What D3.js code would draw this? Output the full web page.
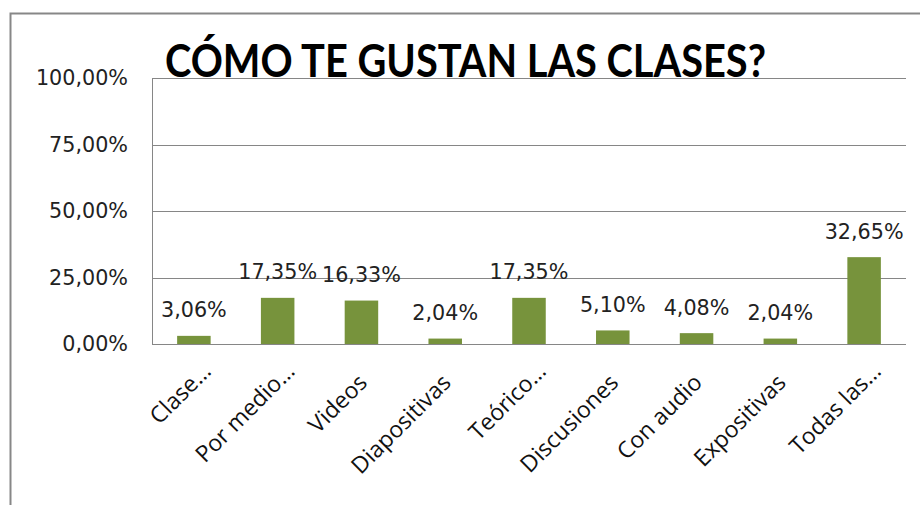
<!DOCTYPE html>
<html><head><meta charset="utf-8">
<script src="https://cdn.jsdelivr.net/npm/d3@7"></script>
<style>html,body{margin:0;padding:0;background:#fff;}svg{display:block;}</style>
</head><body>
<script>
const categories = ["Clase…","Por medio…","Videos","Diapositivas","Teórico…","Discusiones","Con audio","Expositivas","Todas las…"];
const values = [3.06,17.35,16.33,2.04,17.35,5.10,4.08,2.04,32.65];
const yTicks = [0,25,50,75,100];
const title = "CÓMO TE GUSTAN LAS CLASES?";

(function(){
const W = 920, H = 505;
const FS = 20.7;
const fmt = v => d3.format(".2f")(v).replace(".", ",") + "%";
const svg = d3.select("body").append("svg").attr("width", W).attr("height", H);

// outer frame
svg.append("path").attr("d", `M10.5,505 L10.5,13.5 L920,13.5`)
  .attr("fill","none").attr("stroke","#878787").attr("stroke-width",2);

const mL = 152, mR = 906, mT = 78, mB = 344;
const x = d3.scaleBand().domain(categories).range([mL, mR]).paddingInner(0.6).paddingOuter(0.3);
const y = d3.scaleLinear().domain([0,100]).range([mB, mT]);

// gridlines
const gAxisY = svg.append("g").attr("transform", `translate(${mL},0)`)
  .call(d3.axisLeft(y).tickValues(yTicks).tickSize(-(mR-mL)).tickPadding(24).tickFormat(fmt));
gAxisY.select(".domain").remove();
gAxisY.selectAll(".tick line").attr("stroke","#868686").attr("shape-rendering","crispEdges");
gAxisY.selectAll(".tick text").attr("font-family","DejaVu Sans").attr("font-size",FS).attr("fill","#222");

// left axis line
svg.append("line").attr("x1",mL+0.5).attr("x2",mL+0.5).attr("y1",mT).attr("y2",mB)
  .attr("stroke","#868686");

// bars
svg.append("g").selectAll("rect").data(values).join("rect")
  .attr("x",(d,i)=>x(categories[i])).attr("width",x.bandwidth())
  .attr("y",d=>y(d)).attr("height",d=>mB-y(d)).attr("fill","#77933C");

// data labels
svg.append("g").selectAll("text").data(values).join("text")
  .attr("x",(d,i)=>x(categories[i])+x.bandwidth()/2).attr("y",d=>y(d)-18.5)
  .attr("text-anchor","middle").attr("font-family","DejaVu Sans").attr("font-size",FS)
  .attr("fill","#222").text(d=>fmt(d));

// x axis
const gx = svg.append("g").attr("transform",`translate(0,${mB})`)
  .call(d3.axisBottom(x).tickSize(0).tickPadding(0));
gx.select(".domain").remove();
gx.selectAll(".tick text")
  .attr("font-family","'Open Sans', sans-serif").attr("font-size",23).attr("fill","#111")
  .attr("text-anchor","end").attr("y",0).attr("dy",0)
  .attr("dx", d => d.endsWith("…") ? "0.7em" : 0)
  .attr("transform","translate(7,40) rotate(-45)");

// title
svg.append("text").attr("x",165).attr("y",77).attr("font-family","Lato").attr("font-weight","bold")
  .attr("font-size",46).attr("fill","#000").attr("textLength",601).attr("lengthAdjust","spacingAndGlyphs")
  .text(title);
})();
</script>
</body></html>
